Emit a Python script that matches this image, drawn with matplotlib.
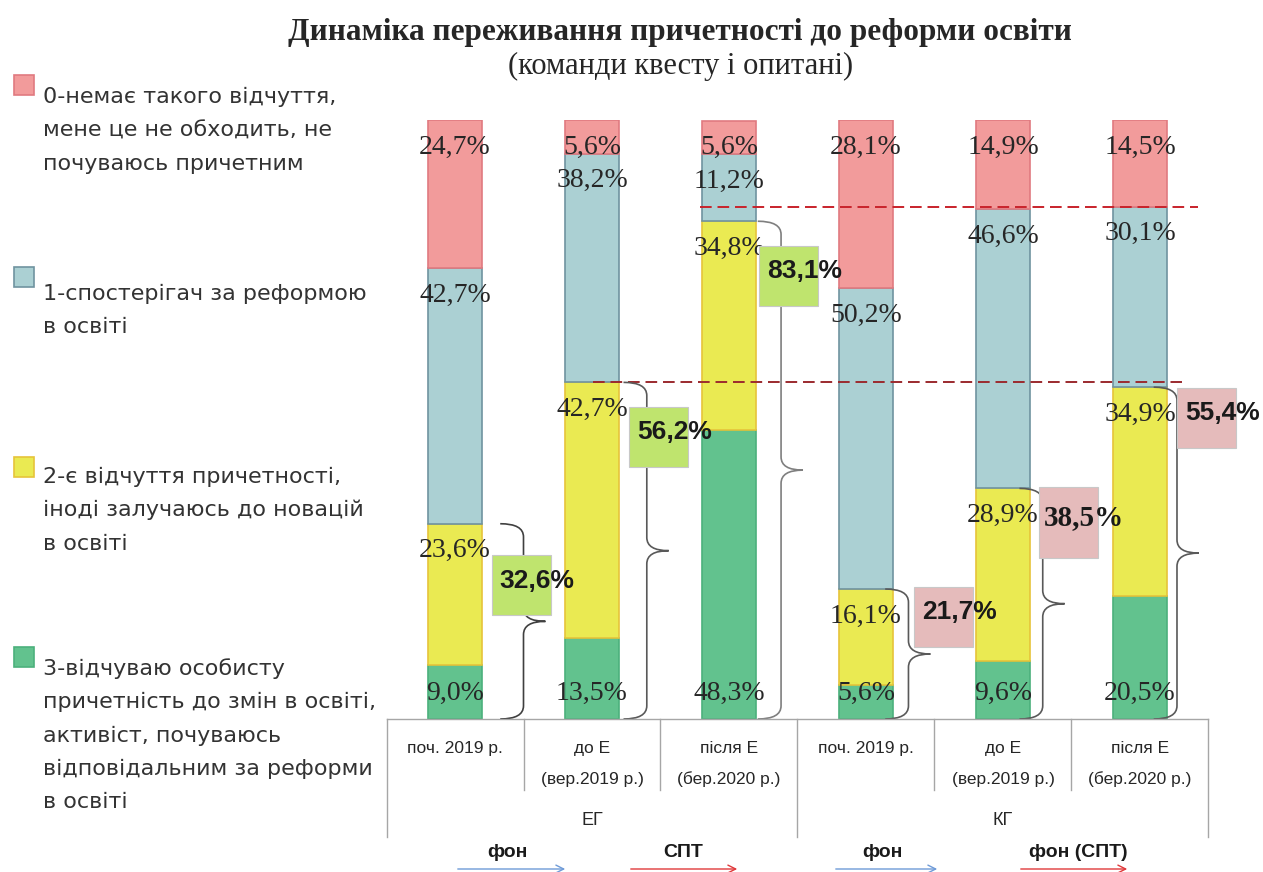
import matplotlib
matplotlib.use('Agg')
import matplotlib.pyplot as plt
from matplotlib.path import Path
from matplotlib.patches import PathPatch, Rectangle, FancyArrowPatch
from matplotlib.lines import Line2D
import matplotlib.transforms as mtransforms

# ---------------- data ----------------
categories = ['поч. 2019 р.', 'до Е\n(вер.2019 р.)', 'після Е\n(бер.2020 р.)',
              'поч. 2019 р.', 'до Е\n(вер.2019 р.)', 'після Е\n(бер.2020 р.)']
groups = ['ЕГ', 'КГ']
level3 = [9.0, 13.5, 48.3, 5.6, 9.6, 20.5]     # 3 - особиста причетність
level2 = [23.6, 42.7, 34.8, 16.1, 28.9, 34.9]  # 2 - є відчуття причетності
level1 = [42.7, 38.2, 11.2, 50.2, 46.6, 30.1]  # 1 - спостерігач
level0 = [24.7, 5.6, 5.6, 28.1, 14.9, 14.5]    # 0 - немає відчуття
legend_labels = [
    ['0-немає такого відчуття,', 'мене це не обходить, не', 'почуваюсь причетним'],
    ['1-спостерігач за реформою', 'в освіті'],
    ['2-є відчуття причетності,', 'іноді залучаюсь до новацій', 'в освіті'],
    ['3-відчуваю особисту', 'причетність до змін в освіті,', 'активіст, почуваюсь',
     'відповідальним за реформи', 'в освіті'],
]
title = 'Динаміка переживання причетності до реформи освіти'
subtitle = '(команди квесту і опитані)'
arrow_labels = ['фон', 'СПТ', 'фон', 'фон (СПТ)']

# ---------------- style ----------------
W, H = 1263, 872
fills = ['#F29B9B', '#ABD0D3', '#EAEA52', '#62C28E']   # level 0..3
edges = ['#E07A80', '#6F93A0', '#E6C43A', '#4CB07C']
txt = '#262626'
SERIF = ['Liberation Serif', 'DejaVu Serif']
NARROW = ['Liberation Sans Narrow', 'Liberation Sans', 'DejaVu Sans']

fig = plt.figure(figsize=(W / 100, H / 100), dpi=100)
x0px, x1px, y0px, y1px = 386.5, 1208.5, 719, 120
ax = fig.add_axes([x0px / W, 1 - y0px / H, (x1px - x0px) / W, (y0px - y1px) / H])
ax.set_xlim(-0.5, 5.5)
ax.set_ylim(0, 100)
ax.axis('off')

def fx(px):
    return px / W

def fy(py):
    return 1 - py / H

n = len(categories)
xs = list(range(n))
stack = [level3, level2, level1, level0]
bottoms = [0.0] * n
for k, vals in enumerate(stack):
    ci = 3 - k
    ax.bar(xs, vals, width=0.40, bottom=bottoms, color=fills[ci], edgecolor=edges[ci],
           linewidth=1.2, zorder=2)
    newb = [b + v for b, v in zip(bottoms, vals)]
    for i in range(n):
        lab = f'{vals[i]:.1f}'.replace('.', ',') + '%'
        if k == 0:
            ax.annotate(lab, (xs[i], 0), xytext=(0, 26), textcoords='offset pixels',
                        ha='center', va='center', fontsize=20, family=SERIF, color=txt,
                        zorder=5)
        else:
            ax.annotate(lab, (xs[i], newb[i]), xytext=(0, -27), textcoords='offset pixels',
                        ha='center', va='center', fontsize=20, family=SERIF, color=txt,
                        zorder=5)
    bottoms = newb

# sums of levels 2+3
sums = [a + b for a, b in zip(level3, level2)]

# dashed reference lines
upper = level3[5] + level2[5] + level1[5]
ax.plot([1.79, 5.42], [upper, upper], ls=(0, (6, 3)), color='#C8232B', lw=1.4, zorder=4,
        clip_on=False)
ax.plot([1.01, 5.31], [sums[1], sums[1]], ls=(0, (6, 3)), color='#9B2A2E', lw=1.4, zorder=4,
        clip_on=False)

# braces
def brace(xv, xa, xt, ytop, ybot, r=2.2, color='#595959', lw=1.2):
    ym = (ytop + ybot) / 2
    verts = [(xa, ytop), (xv, ytop), (xv, ytop - r),
             (xv, ym + r),
             (xv, ym), (xt, ym),
             (xv, ym), (xv, ym - r),
             (xv, ybot + r),
             (xv, ybot), (xa, ybot)]
    codes = [Path.MOVETO, Path.CURVE3, Path.CURVE3, Path.LINETO, Path.CURVE3, Path.CURVE3,
             Path.CURVE3, Path.CURVE3, Path.LINETO, Path.CURVE3, Path.CURVE3]
    ax.add_patch(PathPatch(Path(verts, codes), fill=False, edgecolor=color, lw=lw,
                           zorder=6, clip_on=False))

brace_xv = [0.50, 0.40, 0.38, 0.31, 0.29, 0.27]
brace_col = ['#404040', '#595959', '#7F7F7F', '#595959', '#595959', '#595959']
for i in range(n):
    xv = xs[i] + brace_xv[i]
    brace(xv, xv - 0.17, xv + 0.16, sums[i], 0, color=brace_col[i])

# sum boxes
box_dx = [0.27, 0.27, 0.22, 0.35, 0.26, 0.27]
box_dy = [10.3, 9.1, 9.1, 4.7, 5.7, 5.1]
box_h = [10.0, 10.0, 10.0, 10.0, 11.9, 10.0]
box_col = ['#BFE46E'] * 3 + ['#E5BBBB'] * 3
box_fam = [NARROW, NARROW, NARROW, NARROW, SERIF, NARROW]
box_fs = [19, 19, 19, 19, 21, 19]
for i in range(n):
    cy = sums[i] - box_dy[i]
    left = xs[i] + box_dx[i]
    ax.add_patch(Rectangle((left, cy - box_h[i] / 2), 0.43, box_h[i], facecolor=box_col[i],
                           edgecolor='#C8C8C8', lw=0.8, zorder=7, clip_on=False))
    ax.text(left + 0.33, cy + 0.8, f'{sums[i]:.1f}'.replace('.', ',') + '%', ha='center',
            va='center', fontsize=box_fs[i], fontweight='bold', family=box_fam[i],
            color='#1A1A1A', zorder=8, clip_on=False)

# category table below
line_c = '#A6A6A6'
blend = mtransforms.blended_transform_factory(ax.transData, fig.transFigure)
fig.add_artist(Line2D([-0.5, 5.5], [fy(719), fy(719)], transform=blend, color=line_c, lw=1))
for xb in [-0.5, 2.5, 5.5]:
    fig.add_artist(Line2D([xb, xb], [fy(719), fy(837)], transform=blend, color=line_c, lw=1))
for xb in [0.5, 1.5, 3.5, 4.5]:
    fig.add_artist(Line2D([xb, xb], [fy(719), fy(790)], transform=blend, color=line_c, lw=1))
for i, c in enumerate(categories):
    for j, line in enumerate(c.split('\n')):
        fig.text(xs[i], fy(748 + 31 * j), line, transform=blend, ha='center', va='center',
                 fontsize=12.5, family=NARROW, color=txt)
for g, grp in enumerate(groups):
    fig.text(1 + 3 * g, fy(820), grp, transform=blend, ha='center', va='center',
             fontsize=13, family=NARROW, color=txt)

# legend
marker_tops = [75, 267, 457, 647]
first_base = [103, 300, 483, 675]
for k in range(4):
    fig.add_artist(Rectangle((fx(14), fy(marker_tops[k] + 20)), fx(20), 20 / H,
                             transform=fig.transFigure, facecolor=fills[k], edgecolor=edges[k],
                             lw=1.2))
    for j, line in enumerate(legend_labels[k]):
        fig.text(fx(43), fy(first_base[k] + 33.3 * j), line, ha='left', va='baseline',
                 fontsize=16, family=['DejaVu Sans'], color='#333333')

# title
fig.text(fx(680), fy(40), title, ha='center', va='baseline', fontsize=22.5, fontweight='bold',
         family=SERIF, color=txt)
fig.text(fx(681), fy(74), subtitle, ha='center', va='baseline', fontsize=22,
         family=SERIF, color=txt)

# bottom arrows
arrow_pos = [(507, 455, 568, '#6F9BD8'), (683, 628, 740, '#E0393B'),
             (882, 833, 940, '#6F9BD8'), (1078, 1018, 1130, '#E0393B')]
for lab, (tx, a0, a1, col) in zip(arrow_labels, arrow_pos):
    fig.text(fx(tx), fy(852), lab, ha='center', va='center', fontsize=14, fontweight='bold',
             family=NARROW, color='#1A1A1A')
    fig.add_artist(FancyArrowPatch((fx(a0), fy(869)), (fx(a1), fy(869)),
                                   transform=fig.transFigure, arrowstyle='->',
                                   mutation_scale=14, color=col, lw=1.0))

fig.savefig('out.png', dpi=100)
